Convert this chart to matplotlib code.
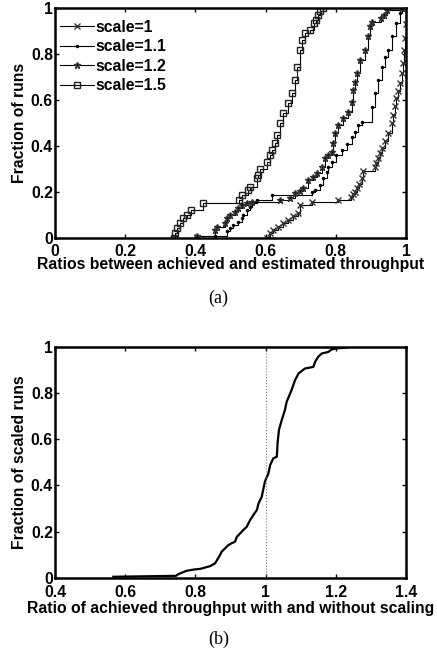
import matplotlib
matplotlib.use('Agg')
import matplotlib.pyplot as plt

plt.rcParams['font.family'] = ['Liberation Sans', 'DejaVu Sans']
plt.rcParams['font.weight'] = 'bold'

# (a) CDF step corners for each scale setting
x_s1 = [0.605, 0.613, 0.622, 0.636, 0.650, 0.665, 0.679, 0.693, 0.698, 0.731, 0.807, 0.843,
        0.848, 0.855, 0.860, 0.867, 0.874, 0.878, 0.912, 0.916, 0.921, 0.926, 0.931, 0.940,
        0.950, 0.959, 0.964, 0.969, 0.973, 0.978, 0.983, 0.988, 0.991, 0.994, 0.997, 0.999, 1.0]
y_s1 = [0.0, 0.02, 0.035, 0.05, 0.065, 0.08, 0.095, 0.11, 0.145, 0.158, 0.165, 0.18,
        0.19, 0.2, 0.216, 0.235, 0.26, 0.29, 0.31, 0.326, 0.346, 0.368, 0.39, 0.42,
        0.455, 0.499, 0.535, 0.572, 0.61, 0.64, 0.673, 0.716, 0.76, 0.817, 0.87, 0.93, 1.0]

x_s11 = [0.456, 0.490, 0.499, 0.508, 0.520, 0.532, 0.536, 0.546, 0.556, 0.560, 0.575, 0.617,
         0.731, 0.741, 0.755, 0.764, 0.774, 0.779, 0.788, 0.802, 0.817, 0.831, 0.845, 0.855,
         0.864, 0.874, 0.903, 0.912, 0.921, 0.931, 0.940, 0.950, 0.959, 0.973, 0.983, 0.988]
y_s11 = [0.01, 0.03, 0.042, 0.057, 0.07, 0.086, 0.1, 0.122, 0.135, 0.151, 0.165, 0.187,
         0.201, 0.209, 0.23, 0.26, 0.288, 0.31, 0.332, 0.361, 0.383, 0.41, 0.44, 0.462,
         0.49, 0.506, 0.571, 0.629, 0.687, 0.745, 0.788, 0.817, 0.876, 0.933, 0.977, 1.0]

x_s12 = [0.404, 0.456, 0.461, 0.484, 0.489, 0.499, 0.513, 0.522, 0.532, 0.546, 0.560, 0.641,
         0.670, 0.684, 0.698, 0.707, 0.722, 0.735, 0.746, 0.760, 0.769, 0.779, 0.788, 0.793,
         0.798, 0.807, 0.821, 0.836, 0.845, 0.850, 0.855, 0.860, 0.869, 0.883, 0.893, 0.897,
         0.902, 0.930, 0.938, 0.945, 0.990]
y_s12 = [0.008, 0.035, 0.049, 0.064, 0.086, 0.10, 0.114, 0.129, 0.143, 0.151, 0.158, 0.165,
         0.172, 0.194, 0.205, 0.216, 0.252, 0.266, 0.281, 0.31, 0.346, 0.36, 0.375, 0.412,
         0.455, 0.491, 0.52, 0.549, 0.593, 0.643, 0.68, 0.716, 0.774, 0.817, 0.876, 0.919,
         0.94, 0.955, 0.97, 0.99, 1.0]

x_s15 = [0.339, 0.342, 0.347, 0.356, 0.366, 0.377, 0.387, 0.423, 0.525, 0.532, 0.551, 0.556,
         0.575, 0.579, 0.584, 0.603, 0.613, 0.617, 0.627, 0.633, 0.641, 0.650, 0.665, 0.674,
         0.684, 0.690, 0.698, 0.705, 0.712, 0.726, 0.738, 0.744, 0.750, 0.755, 0.764]
y_s15 = [0.0, 0.02, 0.042, 0.064, 0.086, 0.10, 0.122, 0.151, 0.165, 0.187, 0.209, 0.223,
         0.26, 0.274, 0.30, 0.332, 0.361, 0.383, 0.412, 0.448, 0.499, 0.542, 0.586, 0.629,
         0.687, 0.745, 0.817, 0.861, 0.89, 0.904, 0.933, 0.948, 0.97, 0.985, 1.0]

# (b) ratio with / without scaling
x_b = [0.566, 0.745, 0.751, 0.775, 0.799, 0.813, 0.823, 0.842, 0.856, 0.865, 0.870, 0.875,
       0.889, 0.894, 0.903, 0.913, 0.918, 0.932, 0.936, 0.946, 0.956, 0.965, 0.975, 0.980,
       0.984, 0.989, 0.994, 0.998, 1.008, 1.013, 1.022, 1.032, 1.034, 1.038, 1.046, 1.055,
       1.060, 1.074, 1.084, 1.094, 1.112, 1.136, 1.141, 1.150, 1.160, 1.179, 1.188, 1.203,
       1.231, 1.240]
y_b = [0.004, 0.008, 0.015, 0.03, 0.036, 0.038, 0.042, 0.05, 0.062, 0.085, 0.098, 0.113,
       0.134, 0.141, 0.149, 0.156, 0.177, 0.199, 0.206, 0.22, 0.25, 0.271, 0.293, 0.322,
       0.335, 0.351, 0.387, 0.416, 0.452, 0.488, 0.517, 0.524, 0.582, 0.64, 0.683, 0.726,
       0.762, 0.813, 0.856, 0.885, 0.906, 0.913, 0.935, 0.957, 0.971, 0.978, 0.989, 0.993,
       0.997, 1.0]

FS = 11.3

def style_axes(ax, xpad=4):
    for s in ax.spines.values():
        s.set_linewidth(1.8)
    ax.tick_params(direction='in', top=True, right=True, length=3, width=1,
                   labelsize=FS, pad=1.5)
    ax.tick_params(axis='x', pad=xpad)
    for lab in ax.get_xticklabels() + ax.get_yticklabels():
        lab.set_fontweight('bold')

fig = plt.figure(figsize=(4.37, 6.54), dpi=100)

ax1 = fig.add_axes([0.126, 0.636, 0.803, 0.352])
ax1.step(x_s1, y_s1, where='post', color='k', lw=0.8, marker='x', ms=4, mec='#333333', label='scale=1')
ax1.step(x_s11, y_s11, where='post', color='k', lw=0.8, marker='.', ms=3, label='scale=1.1')
ax1.step(x_s12, y_s12, where='post', color='k', lw=0.8, marker='*', ms=5, mec='#333333', label='scale=1.2')
ax1.step(x_s15, y_s15, where='post', color='k', lw=0.8, marker='s', ms=5, mfc='none', mec='#222222', label='scale=1.5')
ax1.set_xlim(0, 1)
ax1.set_ylim(0, 1)
ticks_a = [0, 0.2, 0.4, 0.6, 0.8, 1]
ax1.set_xticks(ticks_a)
ax1.set_xticklabels(['0', '0.2', '0.4', '0.6', '0.8', '1'])
ax1.set_yticks(ticks_a)
ax1.set_yticklabels(['0', '0.2', '0.4', '0.6', '0.8', '1'])
ax1.set_xlabel('Ratios between achieved and estimated throughput', fontsize=FS, fontweight='bold', labelpad=-1)
ax1.set_ylabel('Fraction of runs', fontsize=FS, fontweight='bold', labelpad=3)
style_axes(ax1)
leg = ax1.legend(loc='upper left', bbox_to_anchor=(0.0, 0.968), frameon=False,
                 fontsize=FS, handlelength=2.2, handletextpad=0.1, labelspacing=0.28,
                 borderaxespad=0, borderpad=0.3)
for t in leg.get_texts():
    t.set_fontweight('bold')

ax2 = fig.add_axes([0.126, 0.1167, 0.803, 0.353])
ax2.plot(x_b, y_b, color='k', lw=1.6)
ax2.axvline(1.0, color='#777777', lw=0.8, ls=':')
ax2.set_xlim(0.4, 1.4)
ax2.set_ylim(0, 1)
ax2.set_xticks([0.4, 0.6, 0.8, 1.0, 1.2, 1.4])
ax2.set_xticklabels(['0.4', '0.6', '0.8', '1', '1.2', '1.4'])
ax2.set_yticks(ticks_a)
ax2.set_yticklabels(['0', '0.2', '0.4', '0.6', '0.8', '1'])
ax2.set_xlabel('Ratio of achieved throughput with and without scaling', fontsize=FS, fontweight='bold', labelpad=0.5)
ax2.set_ylabel('Fraction of scaled runs', fontsize=FS, fontweight='bold', labelpad=3)
style_axes(ax2, xpad=5.5)

fig.text(0.5, 1 - 298 / 654, '(a)', ha='center', va='center', fontsize=13,
         family=['Liberation Serif', 'DejaVu Serif'], fontweight='normal')
fig.text(0.5, 1 - 639 / 654, '(b)', ha='center', va='center', fontsize=13,
         family=['Liberation Serif', 'DejaVu Serif'], fontweight='normal')

fig.savefig('out.png', dpi=100)
